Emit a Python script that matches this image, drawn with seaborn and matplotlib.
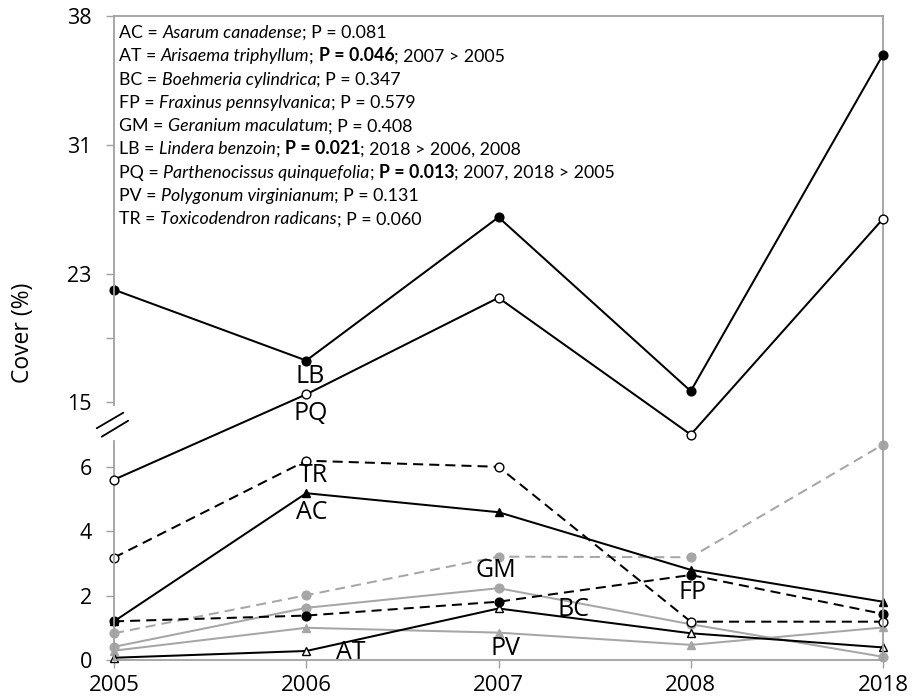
import numpy as np
import matplotlib
matplotlib.use("Agg")
import matplotlib.pyplot as plt
import seaborn as sns
from matplotlib.lines import Line2D

# Survey years (categorical x axis)
years = ["2005", "2006", "2007", "2008", "2018"]

# Species with low cover (% cover, lower axis segment)
ac = [1.20, 5.18, 4.59, 2.80, 1.81]   # Asarum canadense
at = [0.07, 0.28, 1.60, 0.83, 0.39]   # Arisaema triphyllum
bc = [0.41, 1.62, 2.23, 1.11, 0.10]   # Boehmeria cylindrica
fp = [1.20, 1.38, 1.81, 2.64, 1.43]   # Fraxinus pennsylvanica
gm = [0.83, 2.01, 3.21, 3.19, 6.69]   # Geranium maculatum
pv = [0.29, 1.00, 0.85, 0.47, 1.01]   # Polygonum virginianum
tr = [3.18, 6.19, 6.00, 1.19, 1.19]   # Toxicodendron radicans

# Species with high cover (% cover, upper axis segment)
lb = [22.0, 17.6, 26.5, 15.7, 35.9]   # Lindera benzoin
pq = [10.2, 15.5, 21.5, 13.0, 26.4]   # Parthenocissus quinquefolia

lower_ticks = [0, 2, 4, 6]
upper_ticks = [15, 19, 23, 31, 38]
upper_ticklabels = ["15", "", "23", "31", "38"]

sns.set_style("ticks")
plt.rcParams["font.family"] = ["Open Sans", "DejaVu Sans"]
plt.rcParams["text.color"] = "black"
plt.rcParams["axes.labelcolor"] = "black"

AX_GREY = "#a0a0a0"
SER_GREY = "#a6a6a6"
BLACK = "black"

fig = plt.figure(figsize=(9.18, 6.97), dpi=100)
ax = fig.add_axes([114 / 918, 1 - 660 / 697, 769 / 918, 644 / 697])


# Upper segment uses its own compressed scale, sharing the same pixel space
def up_fwd(v):
    v = np.asarray(v, dtype=float)
    return np.where(v <= 31, (v + 1) / 2, 16 + (v - 31) * 4 / 7)


def up_inv(t):
    t = np.asarray(t, dtype=float)
    return np.where(t <= 16, 2 * t - 1, 31 + (t - 16) * 7 / 4)


ax2 = ax.twinx()
ax2.set_yscale("function", functions=(up_fwd, up_inv))

line_kw = dict(linewidth=1.45, markersize=6.3, clip_on=False,
               markeredgewidth=1.0)
dash = (0, (5, 3))


def draw(axis, vals, color, ls, marker, face):
    sns.lineplot(x=years, y=vals, ax=axis, color=color, linestyle=ls,
                 marker=marker, markerfacecolor=face, markeredgecolor=color,
                 sort=False, **line_kw)


# grey series first so the black ones sit on top
draw(ax, pv, SER_GREY, "-", "^", SER_GREY)
draw(ax, bc, SER_GREY, "-", "o", SER_GREY)
draw(ax, gm, SER_GREY, dash, "o", SER_GREY)
draw(ax, at, BLACK, "-", "^", "white")
draw(ax, ac, BLACK, "-", "^", BLACK)
draw(ax, fp, BLACK, dash, "o", BLACK)
draw(ax, tr, BLACK, dash, "o", "white")
draw(ax2, pq, BLACK, "-", "o", "white")
draw(ax2, lb, BLACK, "-", "o", BLACK)

ax.set_xlim(0, 4)
ax.set_ylim(0, 20)
ax2.set_ylim(-1, 38)

# Axes styling
for side in ["left", "right", "top", "bottom"]:
    ax.spines[side].set_color(AX_GREY)
    ax.spines[side].set_linewidth(1.3)
ax.spines["left"].set_bounds(0, 6.8)
for side in ["right", "top", "bottom"]:
    ax2.spines[side].set_visible(False)
ax2.spines["left"].set_visible(True)
ax2.spines["left"].set_color(AX_GREY)
ax2.spines["left"].set_linewidth(1.3)
ax2.spines["left"].set_bounds(14.85, 38)

TICK_SIZE = 15.5
ax.set_yticks(lower_ticks)
ax.yaxis.set_ticks_position("left")
ax.tick_params(axis="y", direction="out", length=6, width=1, color=AX_GREY,
               labelcolor=BLACK, pad=10, labelsize=TICK_SIZE)
ax.tick_params(axis="x", direction="out", length=6, width=1, color=AX_GREY,
               labelcolor=BLACK, pad=5, labelsize=16)

ax2.yaxis.set_ticks_position("left")
ax2.set_yticks(upper_ticks, labels=upper_ticklabels)
ax2.yaxis.set_minor_locator(matplotlib.ticker.NullLocator())
ax2.tick_params(axis="y", direction="out", length=6, width=1, color=AX_GREY,
                labelcolor=BLACK, pad=10, labelsize=TICK_SIZE, left=True,
                right=False, labelleft=True, labelright=False)
ax2.set_ylabel("")

ax.set_ylabel("Cover (%)", fontsize=16.5)
ax.yaxis.set_label_coords(-0.103, 0.508)

# Axis-break marks
for (x0, y0, x1, y1) in [(-0.0225, 0.3598, 0.0121, 0.3840),
                         (-0.0160, 0.3467, 0.0185, 0.3716)]:
    ax.add_line(Line2D([x0, x1], [y0, y1], transform=ax.transAxes,
                       color=BLACK, linewidth=1.3, clip_on=False))

# Species labels next to their lines
lab_kw = dict(textcoords="offset pixels", ha="center", va="center",
              fontsize=18, annotation_clip=False)
ax2.annotate("LB", xy=(1, lb[1]), xytext=(4, -16), **lab_kw)
ax2.annotate("PQ", xy=(1, pq[1]), xytext=(4, -19), **lab_kw)
ax.annotate("TR", xy=(1, tr[1]), xytext=(7, -15), **lab_kw)
ax.annotate("AC", xy=(1, ac[1]), xytext=(6, -19), **lab_kw)
ax.annotate("AT", xy=(1, at[1]), xytext=(44, -2), **lab_kw)
ax.annotate("GM", xy=(2, gm[2]), xytext=(-3, -14), **lab_kw)
ax.annotate("BC", xy=(2, bc[2]), xytext=(75, -21), **lab_kw)
ax.annotate("FP", xy=(3, fp[3]), xytext=(2, -18), **lab_kw)
ax.annotate("PV", xy=(2, pv[2]), xytext=(7, -16), **lab_kw)

# Species key with significance notes
N, I, B = "normal", "italic", "bold"
key_lines = [
    [("AC = ", N), ("Asarum canadense", I), ("; P = 0.081", N)],
    [("AT = ", N), ("Arisaema triphyllum", I), ("; ", N), ("P = 0.046", B),
     ("; 2007 > 2005", N)],
    [("BC = ", N), ("Boehmeria cylindrica", I), ("; P = 0.347", N)],
    [("FP = ", N), ("Fraxinus pennsylvanica", I), ("; P = 0.579", N)],
    [("GM = ", N), ("Geranium maculatum", I), ("; P = 0.408", N)],
    [("LB = ", N), ("Lindera benzoin", I), ("; ", N), ("P = 0.021", B),
     ("; 2018 > 2006, 2008", N)],
    [("PQ = ", N), ("Parthenocissus quinquefolia", I), ("; ", N),
     ("P = 0.013", B), ("; 2007, 2018 > 2005", N)],
    [("PV = ", N), ("Polygonum virginianum", I), ("; P = 0.131", N)],
    [("TR = ", N), ("Toxicodendron radicans", I), ("; P = 0.060", N)],
]
key_font = ["Lato", "DejaVu Sans"]
key_size = 12.8
y0 = 0.966
dy = 0.0362
for k, segs in enumerate(key_lines):
    prev = None
    for text, style in segs:
        kw = dict(fontsize=key_size, family=key_font, color=BLACK,
                  fontstyle="italic" if style == I else "normal",
                  fontweight="bold" if style == B else "normal")
        if prev is None:
            prev = ax2.text(0.0065, y0 - k * dy, text, transform=ax2.transAxes,
                            ha="left", va="baseline", **kw)
        else:
            prev = ax2.annotate(text, xy=(1, 0), xycoords=prev,
                                ha="left", va="bottom", **kw)

fig.savefig("out.png", dpi=100)
